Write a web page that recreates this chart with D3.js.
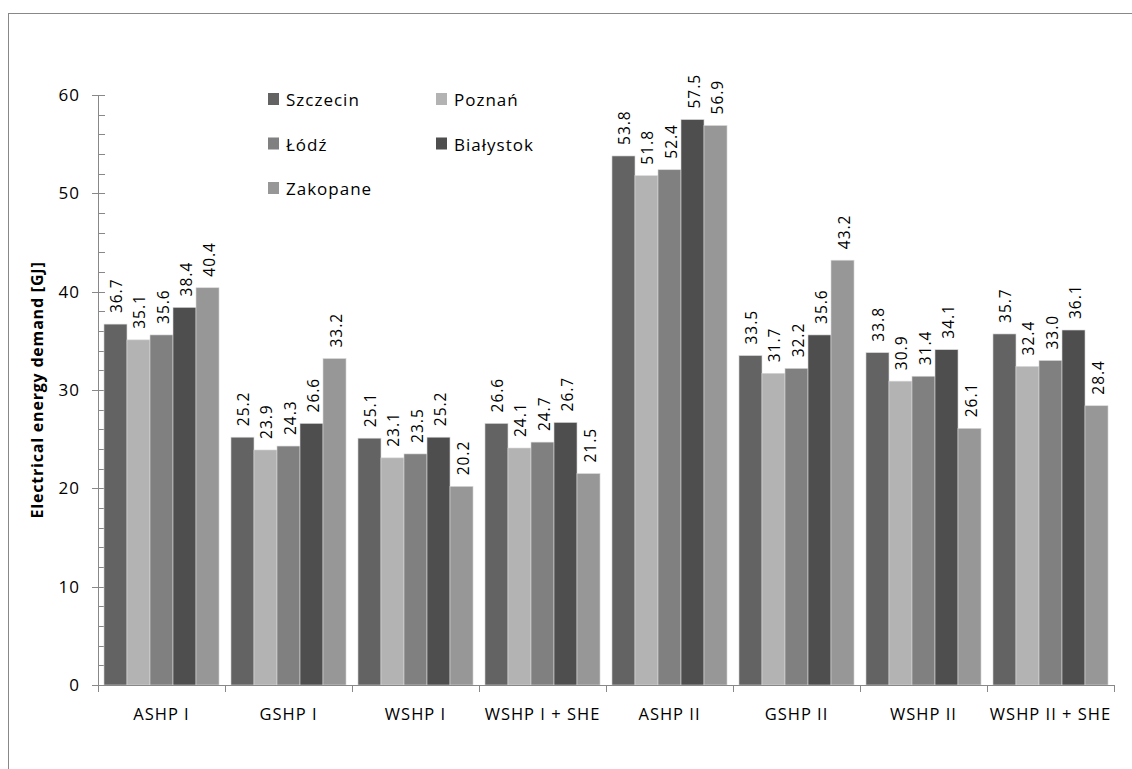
<!DOCTYPE html>
<html><head><meta charset="utf-8">
<script src="https://d3js.org/d3.v7.min.js"></script>
<style>body{margin:0;background:#fff}svg{display:block}text{font-family:"Open Sans",sans-serif}</style>
</head><body>
<svg id="c" width="1132" height="769"></svg>
<script>
const categories = ["ASHP I","GSHP I","WSHP I","WSHP I + SHE","ASHP II","GSHP II","WSHP II","WSHP II + SHE"];
const seriesNames = ["Szczecin","Poznań","Łódź","Białystok","Zakopane"];
const szczecin = [36.7,25.2,25.1,26.6,53.8,33.5,33.8,35.7];
const poznan   = [35.1,23.9,23.1,24.1,51.8,31.7,30.9,32.4];
const lodz     = [35.6,24.3,23.5,24.7,52.4,32.2,31.4,33.0];
const bialystok= [38.4,26.6,25.2,26.7,57.5,35.6,34.1,36.1];
const zakopane = [40.4,33.2,20.2,21.5,56.9,43.2,26.1,28.4];
const yTicks = [0,10,20,30,40,50,60];
const seriesValues = [szczecin,poznan,lodz,bialystok,zakopane];
const colors = ["#636363","#b3b3b3","#808080","#4e4e4e","#979797"];

const svg = d3.select("#c");
svg.append("rect").attr("x",8.5).attr("y",13.5).attr("width",1200).attr("height",800)
  .attr("fill","none").attr("stroke","#888").attr("stroke-width",1);

const L=98, R=1114, T=95, B=685;
const x0 = d3.scaleBand().domain(categories).range([L,R]).paddingInner(0).paddingOuter(0);
const x1 = d3.scaleBand().domain(seriesNames).range([0,x0.bandwidth()]).paddingOuter(0.26).paddingInner(0);
const y = d3.scaleLinear().domain([0,60]).range([B,T]);

// y axis
const ya = svg.append("g");
ya.append("line").attr("x1",L+0.5).attr("x2",L+0.5).attr("y1",T).attr("y2",B).attr("stroke","#888");
const minor = d3.range(0,61,2);
ya.selectAll(".mn").data(minor).join("line")
  .attr("x1",L).attr("x2",L+7).attr("y1",d=>Math.round(y(d))+0.5).attr("y2",d=>Math.round(y(d))+0.5).attr("stroke","#888");
ya.selectAll(".mj").data(yTicks).join("line")
  .attr("x1",L-6).attr("x2",L+7).attr("y1",d=>Math.round(y(d))+0.5).attr("y2",d=>Math.round(y(d))+0.5).attr("stroke","#888");
ya.selectAll("text").data(yTicks).join("text")
  .attr("x",L-18).attr("y",d=>y(d)).attr("dy","0.36em").attr("text-anchor","end")
  .attr("font-size",17).attr("letter-spacing",1).attr("fill","#000").text(d=>d);

// bars
const groups = svg.append("g").selectAll("g").data(categories).join("g")
  .attr("transform",c=>`translate(${x0(c)},0)`);
seriesNames.forEach((s,si)=>{
  groups.append("rect")
    .attr("x",x1(s)).attr("width",x1.bandwidth())
    .attr("y",(c,ci)=>y(seriesValues[si][ci])).attr("height",(c,ci)=>B-y(seriesValues[si][ci]))
    .attr("fill",colors[si]).attr("stroke","#d9d9d9").attr("stroke-width",0.6);
  groups.append("text")
    .attr("transform",(c,ci)=>`translate(${x1(s)+x1.bandwidth()/2+7},${y(seriesValues[si][ci])-11}) rotate(-90)`)
    .attr("font-size",15.5).attr("letter-spacing",1).attr("fill","#000").attr("text-anchor","start")
    .text((c,ci)=>seriesValues[si][ci].toFixed(1));
});

// x axis
const xa = svg.append("g");
xa.append("line").attr("x1",L).attr("x2",R).attr("y1",B+0.5).attr("y2",B+0.5).attr("stroke","#888");
xa.selectAll(".t").data(d3.range(categories.length+1)).join("line")
  .attr("x1",i=>Math.round(L+i*x0.bandwidth())+0.5).attr("x2",i=>Math.round(L+i*x0.bandwidth())+0.5)
  .attr("y1",B).attr("y2",B+7).attr("stroke","#888");
xa.selectAll("text").data(categories).join("text")
  .attr("x",c=>x0(c)+x0.bandwidth()/2).attr("y",B+35).attr("text-anchor","middle")
  .attr("font-size",16.5).attr("letter-spacing",1).attr("fill","#000").text(c=>c);

// y title
svg.append("text").attr("transform",`translate(43,${(T+B)/2}) rotate(-90)`)
  .attr("text-anchor","middle").attr("font-size",16).attr("letter-spacing",0.8).attr("font-weight","bold").text("Electrical energy demand [GJ]");

// legend
const lg = svg.append("g");
seriesNames.forEach((s,i)=>{
  const col=i%2, row=Math.floor(i/2);
  const gx = 268 + col*168, gy = 93 + row*44.5;
  lg.append("rect").attr("x",gx).attr("y",gy).attr("width",11).attr("height",12).attr("fill",colors[i]);
  lg.append("text").attr("x",gx+18).attr("y",gy+13).attr("font-size",17).attr("letter-spacing",1).text(s);
});
</script>
</body></html>
